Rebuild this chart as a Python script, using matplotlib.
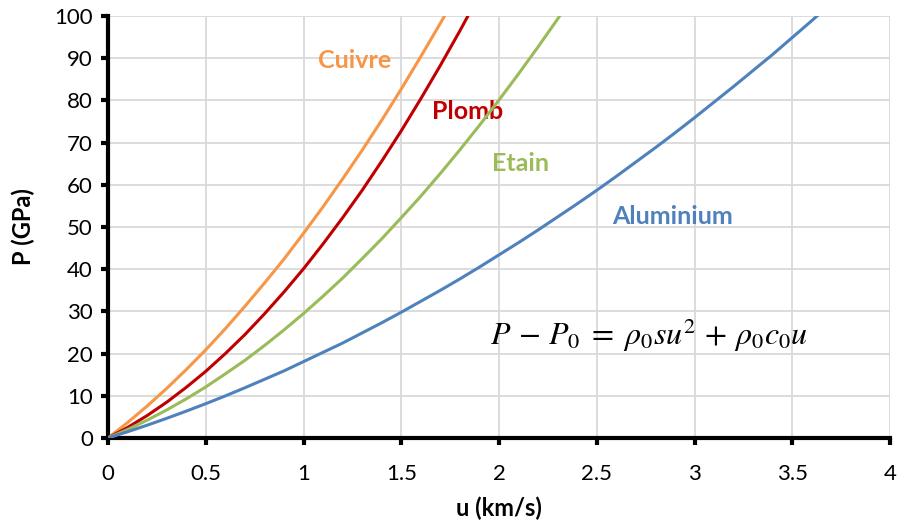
import numpy as np
import matplotlib
matplotlib.use("Agg")
import matplotlib.pyplot as plt

plt.rcParams['font.family'] = ['Lato', 'DejaVu Sans']
plt.rcParams['mathtext.fontset'] = 'stix'

# particle velocity u (km/s), step 0.1
u = [round(0.1 * i, 1) for i in range(38)]

p_cuivre = [0, 3.65, 7.57, 11.75, 16.2, 20.9, 25.9, 31.2, 36.7, 42.4, 48.5,
            54.8, 61.4, 68.2, 75.3, 82.7, 90.4, 98.3, 106.4]
p_plomb = [0, 2.49, 5.31, 8.48, 12.0, 15.8, 20.0, 24.5, 29.4, 34.6, 40.1,
           46.0, 52.2, 58.7, 65.6, 72.8, 80.4, 88.3, 96.5, 105.1]
p_etain = [0, 2.0, 4.22, 6.64, 9.27, 12.1, 15.2, 18.4, 21.9, 25.6, 29.5,
           33.6, 37.9, 42.5, 47.2, 52.2, 57.3, 62.7, 68.3, 74.1, 80.1,
           86.3, 92.7, 99.3, 106.2]
p_alu = [0, 1.48, 3.03, 4.66, 6.36, 8.13, 9.97, 11.9, 13.9, 15.9, 18.1,
         20.3, 22.5, 24.9, 27.3, 29.8, 32.4, 35.0, 37.7, 40.5, 43.4,
         46.3, 49.3, 52.4, 55.5, 58.7, 62.0, 65.4, 68.8, 72.3, 75.9,
         79.6, 83.3, 87.1, 90.9, 94.9, 98.9, 103.0]

series = [
    ("Cuivre", p_cuivre, "#F79646", (1.26, 89.4)),
    ("Plomb", p_plomb, "#C00000", (1.84, 77.3)),
    ("Etain", p_etain, "#9BBB59", (2.11, 65.0)),
    ("Aluminium", p_alu, "#4F81BD", (2.89, 52.4)),
]

fig = plt.figure(figsize=(9.01, 5.30), dpi=100)
ax = fig.add_axes([0.1199, 0.1736, 0.8679, 0.7962])

for name, p, col, pos in series:
    ax.plot(u[:len(p)], p, color=col, lw=2.2, solid_capstyle='butt', zorder=3)
    ax.text(pos[0], pos[1], name, color=col, fontsize=18, fontweight='bold',
            ha='center', va='center')

ax.text(2.77, 24.4, r'$P\, -\, P_0\; =\; \rho_0 s u^2\, +\, \rho_0 c_0 u$',
        fontsize=23, ha='center', va='center')

ax.set_xlim(0, 4)
ax.set_ylim(0, 100)
ax.set_xticks(np.arange(0, 4.01, 0.5))
ax.set_xticklabels(['0', '0.5', '1', '1.5', '2', '2.5', '3', '3.5', '4'])
ax.set_yticks(range(0, 101, 10))
ax.grid(True, color='#D9D9D9', lw=1.3)
ax.set_axisbelow(True)
for s in ['top', 'right']:
    ax.spines[s].set_visible(False)
for s in ['left', 'bottom']:
    ax.spines[s].set_linewidth(3)
ax.tick_params(length=5, width=3, labelsize=16, pad=6)
ax.tick_params(axis='x', pad=14)

ax.set_xlabel('u (km/s)', fontsize=17, fontweight='bold', labelpad=9)
ax.set_ylabel('P (GPa)', fontsize=17, fontweight='bold', labelpad=14)

fig.savefig('out.png', dpi=100)
